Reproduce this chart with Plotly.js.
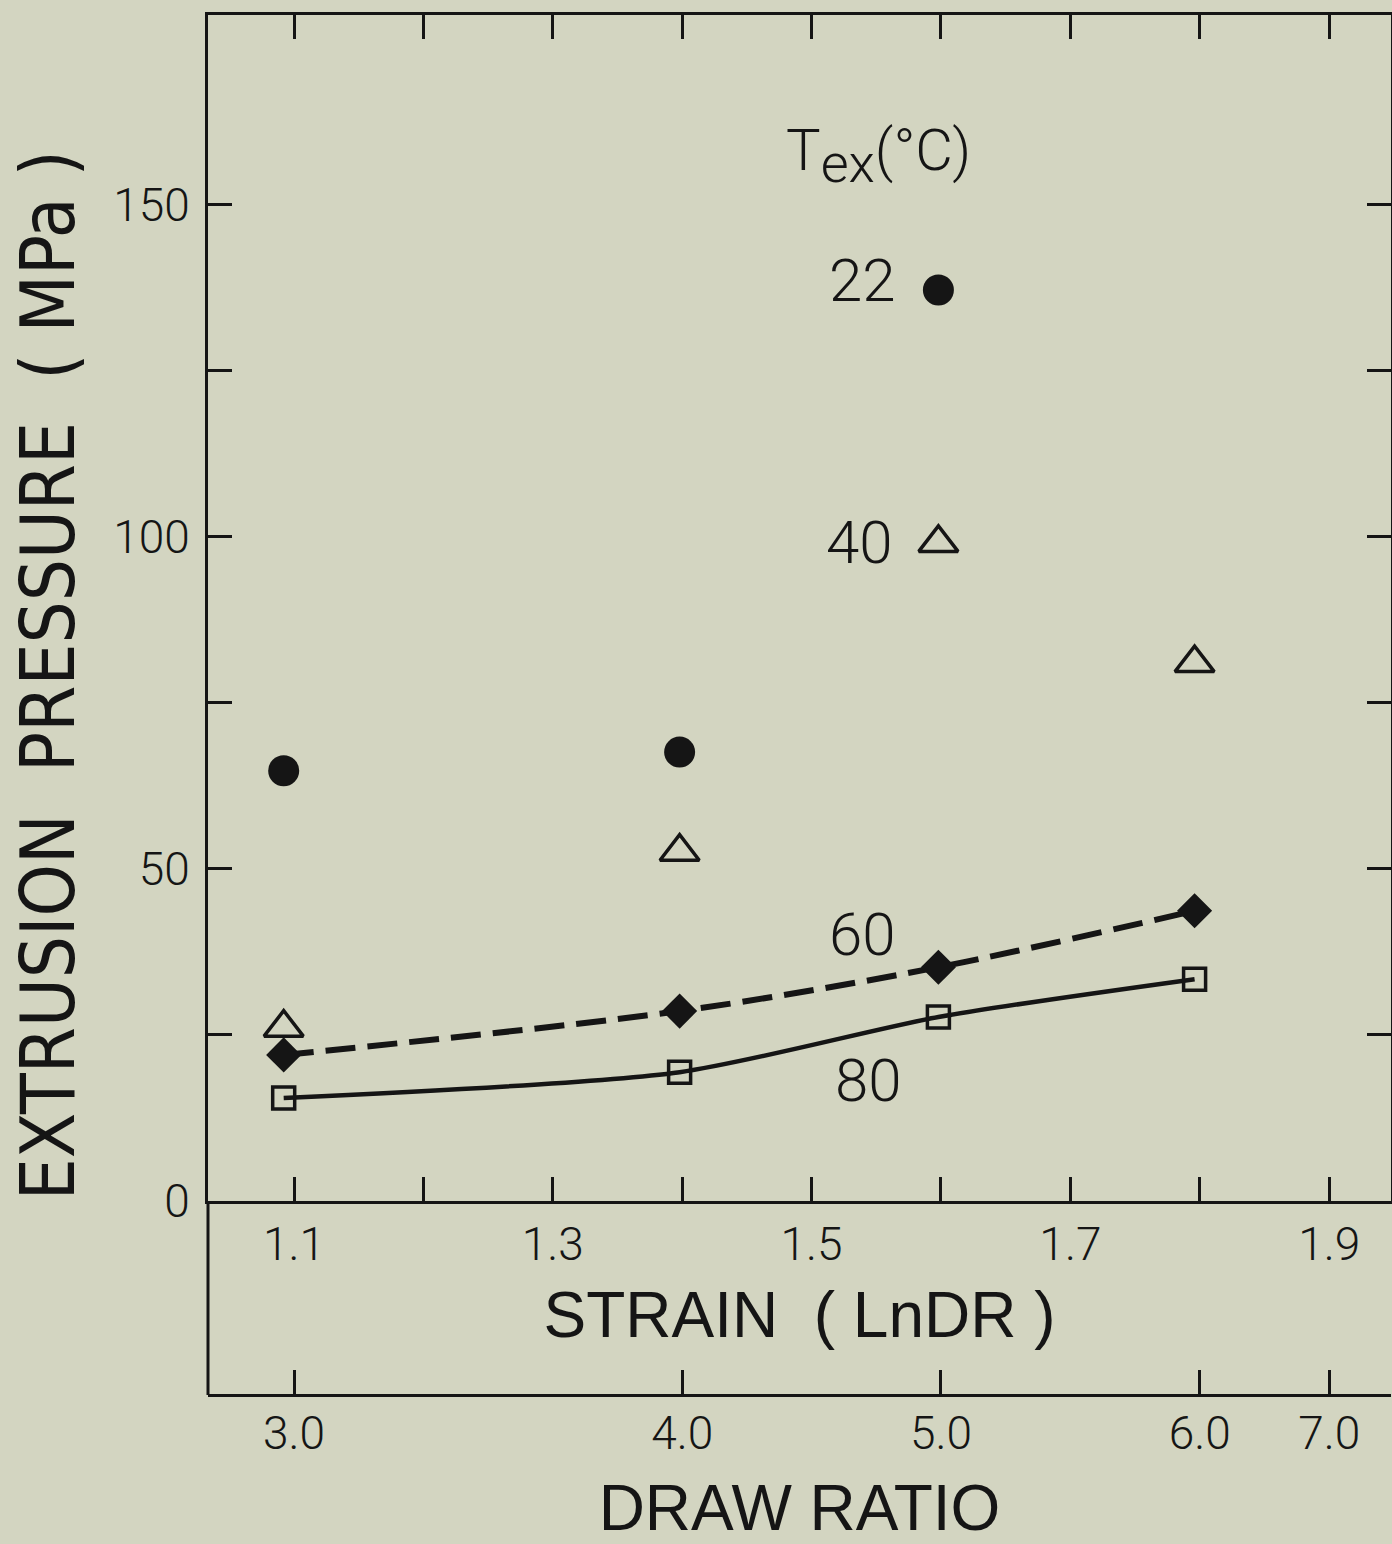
<!DOCTYPE html>
<html>
<head>
<meta charset="utf-8">
<script src="https://cdn.plot.ly/plotly-3.0.1.min.js"></script>
<style>
  html, body { margin: 0; padding: 0; background: #d3d5c1; }
  #chart { width: 1392px; height: 1544px; }
</style>
</head>
<body>
<div id="chart"></div>
<script>
// ---- data ----
const drawRatios   = [3.0, 4.0, 5.0, 6.0];
const strainPos    = [1.092, 1.398, 1.598, 1.796];   // strain (Ln DR) of each draw ratio, as plotted
const p22 = [64.8, 67.6, 137.2, null];               // Tex = 22 °C, filled circles
const p40 = [26.1, 52.6, 99.1, 81.0];                // Tex = 40 °C, open triangles
const p60 = [22.0, 28.6, 35.2, 43.7];                // Tex = 60 °C, filled diamonds, dashed
const p80 = [15.5, 19.4, 27.7, 33.4];                // Tex = 80 °C, open squares, solid

const yMajorVals   = [0, 50, 100, 150];
const yMajorText   = ['0', '50', '100', '150'];
const yMinorVals   = [25, 75, 125];
const strainMajor  = [1.1, 1.3, 1.5, 1.7, 1.9];
const strainText   = ['1.1', '1.3', '1.5', '1.7', '1.9'];
const strainMinor  = [1.2, 1.4, 1.6, 1.8];
const drTickPos    = [1.1, 1.4, 1.6, 1.8, 1.9];
const drTickText   = ['3.0', '4.0', '5.0', '6.0', '7.0'];

const ink = '#151515';
const bg = '#d3d5c1';
const lightFont = {family: 'Roboto, "Open Sans", sans-serif', size: 46, color: ink, weight: 300};
const annFont = {family: 'Roboto, sans-serif', size: 60, color: ink, weight: 300};
const yDomLow = (1395 - 1201) / 1380;
const minorTicks = vals => ({tickmode: 'array', tickvals: vals, ticks: 'inside', ticklen: 24,
                             tickwidth: 3, tickcolor: ink, showgrid: false});

const traces = [
  {x: strainPos, y: p80, mode: 'lines+markers', name: '80',
   line: {color: ink, width: 4.5, shape: 'spline', smoothing: 0.7},
   marker: {symbol: 'square-open', size: 22, color: ink, line: {width: 3.5, color: ink}},
   showlegend: false, hoverinfo: 'skip'},
  {x: strainPos, y: p60, mode: 'lines+markers', name: '60',
   line: {color: ink, width: 6, dash: '30px,12px', shape: 'spline', smoothing: 0.9},
   marker: {symbol: 'diamond', size: 27, color: ink},
   showlegend: false, hoverinfo: 'skip'},
  {x: strainPos, y: p40, mode: 'markers', name: '40',
   marker: {symbol: 'triangle-up-open', size: 34, color: ink, line: {width: 3.5, color: ink}},
   showlegend: false, hoverinfo: 'skip'},
  {x: strainPos, y: p22, mode: 'markers', name: '22',
   marker: {symbol: 'circle', size: 31, color: ink},
   showlegend: false, hoverinfo: 'skip'},
  {x: drTickPos, y: drTickPos.map(() => null), xaxis: 'x2', mode: 'markers',
   showlegend: false, hoverinfo: 'skip'}
];

const layout = {
  width: 1392, height: 1544,
  paper_bgcolor: bg, plot_bgcolor: bg,
  margin: {l: 208, r: 1, t: 15, b: 149},
  showlegend: false,
  xaxis: {
    range: [1.0335, 1.9478], domain: [0, 1], anchor: 'y',
    tickmode: 'array', tickvals: strainMajor, ticktext: strainText,
    ticks: 'inside', ticklen: 24, tickwidth: 3, tickcolor: ink,
    minor: minorTicks(strainMinor),
    showline: true, linewidth: 3, linecolor: ink, mirror: 'ticks',
    showgrid: false, zeroline: false,
    tickfont: lightFont, ticklabelstandoff: 1,
    title: {text: 'STRAIN  ( LnDR )', standoff: 22,
            font: {family: '"Liberation Sans", Arial, sans-serif', size: 64, color: ink}}
  },
  xaxis2: {
    range: [1.0335, 1.9478], overlaying: 'x', anchor: 'free', position: 0, side: 'bottom',
    tickmode: 'array', tickvals: drTickPos, ticktext: drTickText,
    ticks: 'inside', ticklen: 24, tickwidth: 3, tickcolor: ink,
    showline: true, linewidth: 3, linecolor: ink,
    showgrid: false, zeroline: false,
    tickfont: lightFont, ticklabelstandoff: -3,
    title: {text: 'DRAW RATIO', standoff: 46,
            font: {family: '"Liberation Sans", Arial, sans-serif', size: 64, color: ink}}
  },
  yaxis: {
    range: [0, 178.6], domain: [yDomLow, 1],
    tickmode: 'array', tickvals: yMajorVals, ticktext: yMajorText,
    ticks: 'inside', ticklen: 24, tickwidth: 3, tickcolor: ink,
    minor: minorTicks(yMinorVals),
    showline: true, linewidth: 3, linecolor: ink, mirror: 'ticks',
    showgrid: false, zeroline: false,
    tickfont: lightFont, ticklabelstandoff: 6
  },
  shapes: [
    {type: 'line', xref: 'paper', yref: 'paper', x0: 0, x1: 0, y0: 0, y1: yDomLow,
     line: {color: ink, width: 3}}
  ],
  annotations: [
    {text: 'EXTRUSION  PRESSURE  ( MPa )', xref: 'paper', yref: 'paper',
     x: -0.135, y: 0.5217, textangle: -90, showarrow: false,
     xanchor: 'center', yanchor: 'middle',
     font: {family: '"Liberation Sans Narrow", "DejaVu Sans Condensed", "Arial Narrow", sans-serif', size: 74, color: ink}},
    {text: 'T<sub><span style="font-size:54px">ex</span></sub>(°C)', x: 1.5514, y: 157.5, xref: 'x', yref: 'y', showarrow: false,
     font: {family: 'Roboto, sans-serif', size: 58, color: ink, weight: 300}},
    {text: '22', x: 1.539, y: 138.6, xref: 'x', yref: 'y', showarrow: false, font: annFont},
    {text: '40', x: 1.5374, y: 99.1, xref: 'x', yref: 'y', showarrow: false, font: annFont},
    {text: '60', x: 1.5397, y: 40.1, xref: 'x', yref: 'y', showarrow: false, font: annFont},
    {text: '80', x: 1.5436, y: 18.2, xref: 'x', yref: 'y', showarrow: false, font: annFont}
  ]
};

Plotly.newPlot('chart', traces, layout, {staticPlot: true, displayModeBar: false});
</script>
</body>
</html>
